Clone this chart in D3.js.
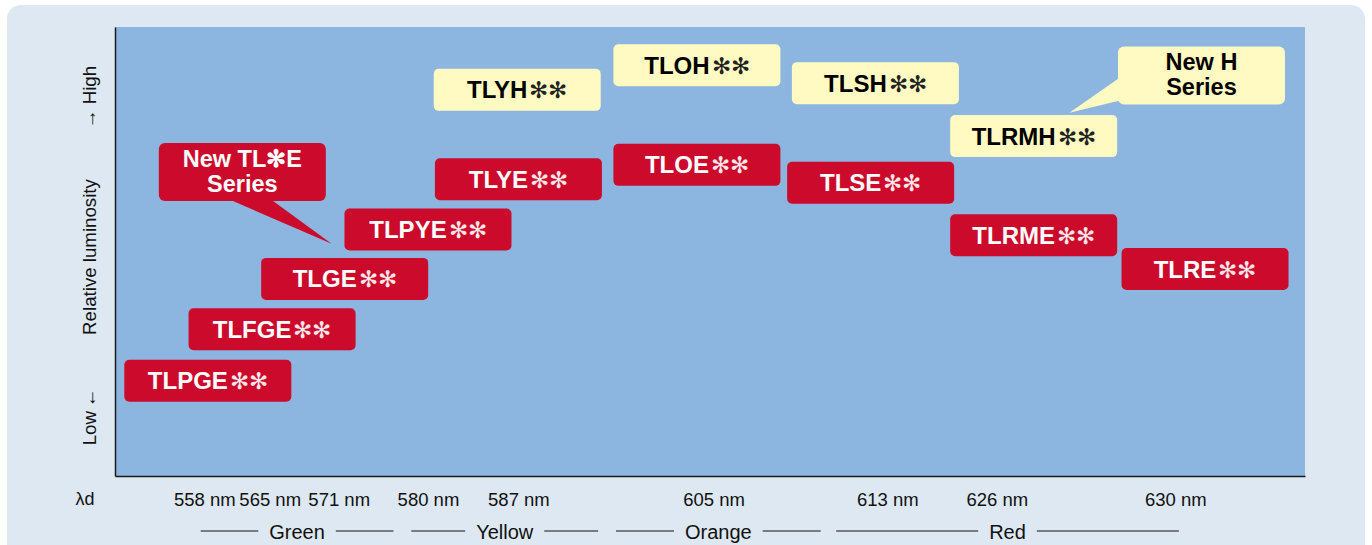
<!DOCTYPE html>
<html>
<head>
<meta charset="utf-8">
<script src="https://cdn.jsdelivr.net/npm/d3@7"></script>
<style>
  body { margin: 0; background: #fff; }
  svg { display: block; font-family: "Liberation Sans", Arial, sans-serif; }
</style>
</head>
<body>
<script>
// wavelength ticks, position along the x axis (0-100)
var tickLabels = ["558 nm", "565 nm", "571 nm", "580 nm", "587 nm", "605 nm", "613 nm", "626 nm", "630 nm"];
var tickPos = [7.5, 13.0, 18.8, 26.3, 33.9, 50.3, 64.9, 74.1, 89.1];

// colour groups under the axis (start / end positions)
var groupNames = ["Green", "Yellow", "Orange", "Red"];
var groupStart = [7.2, 24.9, 42.1, 60.6];
var groupEnd = [23.4, 40.6, 59.3, 89.4];

// products: position along axis and relative luminosity (0-100)
var productNames = ["TLPGE", "TLFGE", "TLGE", "TLPYE", "TLYE", "TLYH", "TLOH", "TLOE", "TLSH", "TLSE", "TLRMH", "TLRME", "TLRE"];
var productSeries = ["E", "E", "E", "E", "E", "H", "H", "E", "H", "E", "H", "E", "E"];
var productX = [7.8, 13.2, 19.3, 26.3, 33.9, 33.8, 48.9, 48.9, 63.9, 63.5, 77.2, 77.2, 91.6];
var productLum = [21.2, 32.7, 43.9, 54.9, 66.1, 86.0, 91.5, 69.3, 87.5, 65.3, 75.7, 53.6, 46.1];

// callouts
var calloutLines = [["New TL\u273BE", "Series"], ["New H", "Series"]];
var calloutSeries = ["E", "H"];
var calloutX = [10.7, 91.3];
var calloutLum = [67.7, 89.2];
var calloutTipX = [18.2, 80.2];
var calloutTipLum = [51.7, 80.9];

var W = 1372, H = 545;
var plot = {left: 115, right: 1305, top: 27, bottom: 476};
var red = "#cc0a2b", yellow = "#fffac2";
var boxW = 167, boxH = 42;

var svg = d3.select("body").append("svg")
    .attr("width", W)
    .attr("height", H);

// background panel
svg.append("rect")
    .attr("x", 7).attr("y", 5)
    .attr("width", 1358).attr("height", 570)
    .attr("rx", 14)
    .attr("fill", "#dde8f2");

var x = d3.scaleLinear().domain([0, 100]).range([plot.left, plot.right]);
var y = d3.scaleLinear().domain([0, 100]).range([plot.bottom, plot.top]);

// plot area
svg.append("rect")
    .attr("x", x(0)).attr("y", y(100))
    .attr("width", x(100) - x(0)).attr("height", y(0) - y(100))
    .attr("fill", "#8cb5df");

// axes
var xAxis = d3.axisBottom(x)
    .tickValues(tickPos)
    .tickFormat(function(d, i) { return tickLabels[i]; })
    .tickSize(0).tickSizeOuter(0).tickPadding(17);

var gx = svg.append("g")
    .attr("transform", "translate(0," + y(0) + ")")
    .call(xAxis);
gx.select(".domain").attr("stroke", "#1a1a1a").attr("stroke-width", 1.5);
gx.selectAll("text")
    .attr("font-size", 18.5)
    .attr("font-family", "Liberation Sans, Arial, sans-serif")
    .attr("fill", "#111");

var yAxis = d3.axisLeft(y).tickValues([]).tickSizeOuter(0);
var gy = svg.append("g")
    .attr("transform", "translate(" + x(0) + ",0)")
    .call(yAxis);
gy.select(".domain").attr("stroke", "#1a1a1a").attr("stroke-width", 1.5);

// lambda d
svg.append("text")
    .attr("x", 85).attr("y", 505)
    .attr("text-anchor", "middle")
    .attr("font-size", 18)
    .attr("fill", "#111")
    .text("\u03BBd");

// y axis labels
var yLabels = [["\u2192 High", 97], ["Relative luminosity", 257], ["Low\u2009\u2190", 417]];
yLabels.forEach(function(l) {
    svg.append("text")
        .attr("transform", "translate(96," + l[1] + ") rotate(-90)")
        .attr("text-anchor", "middle")
        .attr("font-size", 18.7)
        .attr("fill", "#111")
        .text(l[0]);
});

// colour groups
groupNames.forEach(function(g, i) {
    var mid = (x(groupStart[i]) + x(groupEnd[i])) / 2;
    var t = svg.append("text")
        .attr("x", mid).attr("y", 539)
        .attr("text-anchor", "middle")
        .attr("font-size", 20)
        .attr("fill", "#111")
        .text(g);
    var half = t.node().getComputedTextLength() / 2 + 11;
    svg.append("line")
        .attr("x1", x(groupStart[i])).attr("x2", mid - half)
        .attr("y1", 531).attr("y2", 531)
        .attr("stroke", "#111").attr("stroke-width", 1.2);
    svg.append("line")
        .attr("x1", mid + half).attr("x2", x(groupEnd[i]))
        .attr("y1", 531).attr("y2", 531)
        .attr("stroke", "#111").attr("stroke-width", 1.2);
});

// callouts (drawn first so boxes sit over tails)
calloutLines.forEach(function(lines, i) {
    var cx = x(calloutX[i]), cy = y(calloutLum[i]);
    var bw = 167, bh = 58;
    var tx = x(calloutTipX[i]), ty = y(calloutTipLum[i]);
    var fill = calloutSeries[i] == "E" ? red : yellow;
    var pts;
    if (calloutSeries[i] == "E") {
        pts = [[cx - 14, cy + bh / 2 - 2], [tx, ty], [cx + 28, cy + bh / 2 - 2]];
    } else {
        pts = [[cx - bw / 2 + 2, cy + 2], [tx, ty], [cx - bw / 2 + 2, cy + 25]];
    }
    svg.append("path")
        .attr("d", d3.line()(pts) + "Z")
        .attr("fill", fill);
    svg.append("rect")
        .attr("x", cx - bw / 2).attr("y", cy - bh / 2)
        .attr("width", bw).attr("height", bh)
        .attr("rx", 6)
        .attr("fill", fill);
    var t = svg.append("text")
        .attr("text-anchor", "middle")
        .attr("font-size", 23.5)
        .attr("font-weight", "bold")
        .attr("fill", calloutSeries[i] == "E" ? "#fff" : "#000");
    lines.forEach(function(s, j) {
        t.append("tspan")
            .attr("x", cx)
            .attr("y", cy - 5 + j * 25)
            .text(s);
    });
});

// product boxes
var boxes = svg.selectAll(".prod")
    .data(productNames)
    .enter().append("g")
    .attr("class", "prod")
    .attr("transform", function(d, i) { return "translate(" + x(productX[i]) + "," + y(productLum[i]) + ")"; });

boxes.append("rect")
    .attr("x", -boxW / 2).attr("y", -boxH / 2)
    .attr("width", boxW).attr("height", boxH)
    .attr("rx", 5)
    .attr("fill", function(d, i) { return productSeries[i] == "E" ? red : yellow; });

var label = boxes.append("text")
    .attr("text-anchor", "middle")
    .attr("y", 8.5)
    .attr("font-size", 24)
    .attr("font-weight", "bold")
    .attr("fill", function(d, i) { return productSeries[i] == "E" ? "#fff" : "#000"; });
label.append("tspan").text(function(d) { return d; });
label.append("tspan")
    .attr("dx", 2)
    .attr("font-weight", "normal")
    .attr("font-size", 23)
    .attr("fill", function(d, i) { return productSeries[i] == "E" ? "#fde6ea" : "#222"; })
    .text("\u273B\u273B");
</script>
</body>
</html>
